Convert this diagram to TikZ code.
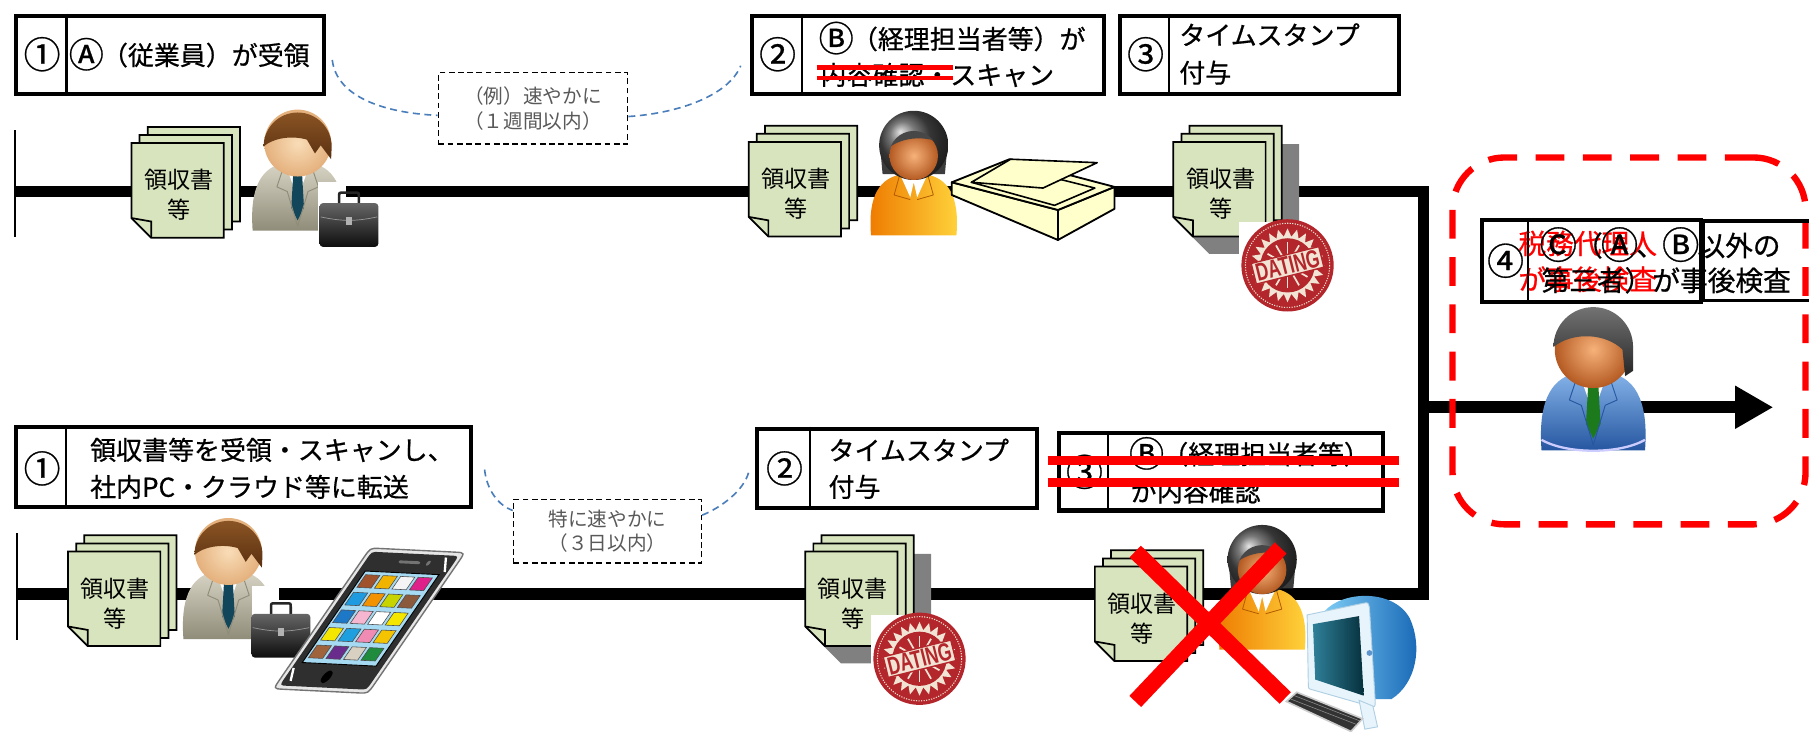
\documentclass[tikz,border=0pt]{standalone}
\usepackage{fontspec}
\usepackage{graphicx}
\newfontfamily\jpfont{Noto Sans CJK JP}
\newfontfamily\jpheavy{Noto Sans CJK JP}[FakeBold=0.7]
\newfontfamily\stampfont{Liberation Sans}
\usetikzlibrary{arrows.meta,calc}

\definecolor{docgreen}{HTML}{D7E4BD}
\definecolor{docshadow}{HTML}{808080}
\definecolor{linkblue}{HTML}{4A7EBB}
\definecolor{notegray}{HTML}{595959}
\definecolor{stampred}{HTML}{B3262B}
\definecolor{stampcream}{HTML}{F2E4D4}
\definecolor{scanyellow}{HTML}{FFFFCC}
\definecolor{skinlight}{HTML}{F9DDB8}
\definecolor{skindark}{HTML}{E4B07C}
\definecolor{hairlight}{HTML}{8A5424}
\definecolor{hairbrown}{HTML}{5A3010}
\definecolor{suitgray}{HTML}{D8D5C6}
\definecolor{suitgraydark}{HTML}{8F8C79}
\definecolor{tieteal}{HTML}{12465A}
\definecolor{suitblue}{HTML}{86B4EA}
\definecolor{suitbluedark}{HTML}{2656A0}
\definecolor{tiegreen}{HTML}{1C7A1C}
\definecolor{facelight}{HTML}{F6B27A}
\definecolor{facedark}{HTML}{B45A22}
\definecolor{hairdark}{HTML}{3C3C3C}
\definecolor{blouseorange}{HTML}{EE7A00}
\definecolor{blouseyellow}{HTML}{FFD43C}
\definecolor{screenblue}{HTML}{A6DAF2}
\definecolor{phonebody}{HTML}{2F2F2F}
\definecolor{phonesilver}{HTML}{E6E6E6}
\definecolor{macbluelight}{HTML}{7CCBF4}
\definecolor{macbluedark}{HTML}{1464B4}
\definecolor{bezel}{HTML}{E8F4FB}
\definecolor{bezelline}{HTML}{AFCFE3}
\definecolor{screenlight}{HTML}{2F8099}
\definecolor{screendark}{HTML}{06303D}

% enlarged enclosed letters (the font draws them small)
\newcommand{\enc}[1]{\kern-0.07em\raisebox{-0.1em}{\scalebox{1.35}{#1}}\kern-0.07em}

% suit body shared by the two male figures
\newcommand{\suitbody}[3]{%
  \shade[top color=#1, bottom color=#2] (-39,76) .. controls (-42,36) and (-30,20) .. (-10,17)
     -- (10,17) .. controls (30,20) and (42,36) .. (39,76) -- cycle;
  \fill[white] (-11,17) -- (0,48) -- (11,17) -- cycle;
  \fill[#3] (-3.5,21) -- (3.5,21) -- (5.5,56) -- (0,67) -- (-5.5,56) -- cycle;
  \draw[#2, line width=0.8pt, line join=round] (-11,17) -- (-18,38) -- (-9,42) -- (0,72) -- (9,42) -- (18,38) -- (11,17);
}

\tikzset{
  stepbox/.style={draw, line width=3.5pt, inner sep=0pt},
  boxline/.style={line width=2pt},
  numlabel/.style={font=\jpheavy\fontsize{32}{34}\selectfont, inner sep=0pt},
  boxtext/.style={font=\jpheavy\fontsize{22.5}{26}\selectfont, inner sep=0pt, anchor=west},
  bigtext/.style={font=\jpheavy\fontsize{24}{27}\selectfont, inner sep=0pt, anchor=west},
  notebox/.style={draw, line width=1.3pt, dash pattern=on 5pt off 3pt, inner sep=0pt,
     font=\jpfont\fontsize{17}{21}\selectfont, text=notegray, align=center},
  rail/.style={line width=10pt, line join=miter},
  linkcurve/.style={linkblue, line width=1.4pt, dash pattern=on 6pt off 4pt},
  doclabel/.style={font=\jpfont\fontsize{20}{22}\selectfont, inner sep=0pt},
  strikeout/.style={red, line width=#1},
  pics/docstack/.style={code={
    \foreach \off in {14,7,0}{
      \filldraw[fill=docgreen, draw=black, line width=1.5pt, line join=miter]
        (\off,-\off) -- ++(80,0) -- ++(0,82) -- ++(-63,0) -- ++(-17,-17) -- cycle;
    }
    \draw[line width=1.5pt] (0,65) -- (17,68) -- (17,82);
    \node[doclabel] (-l1) at (41,32) {領収書};
    \node[doclabel] (-l2) at (41,58) {等};
  }},
  pics/docshadow/.style={code={
    \fill[docshadow] (14,2) -- (109,2) -- (109,97) -- (31,97) -- (14,80) -- cycle;
  }},
  pics/clerk/.style={code={
    \suitbody{suitgray}{suitgraydark}{tieteal}
    \shade[inner color=skinlight, outer color=skindark] (0,0) circle (29);
    \shade[top color=hairlight, bottom color=hairbrown]
      (-29.5,3) arc[start angle=180, end angle=360, radius=29.5] -- (29,14) -- (20,2) -- (15,9) -- (8,-3)
      .. controls (-6,-7) and (-22,-4) .. cycle;
  }},
  pics/auditor/.style={code={
    \suitbody{suitblue}{suitbluedark}{tiegreen}
    \draw[white!80!blue, line width=2pt] (-39,68) .. controls (-20,79) and (20,79) .. (39,68);
    \shade[inner color=facelight, outer color=facedark] (0,0) circle (29);
    \shade[top color=black!55, bottom color=black!85]
      (-30,-2) arc[start angle=180, end angle=360, radius=30] -- (30,16) -- (24,20) -- (22,0)
      .. controls (10,-12) and (-15,-14) .. cycle;
  }},
  pics/woman/.style={code={
    \shade[left color=blouseorange, right color=blouseyellow]
      (-37,77) .. controls (-40,42) and (-29,27) .. (-10,24) -- (10,24) .. controls (29,27) and (40,42) .. (37,77) -- cycle;
    \fill[white] (-12,24) -- (-3,44) -- (0,31) -- (3,44) -- (12,24) -- cycle;
    \draw[blouseorange!75!black, line width=0.7pt, line join=round]
      (-12,24) -- (-17,42) -- (-3,46) (12,24) -- (17,42) -- (3,46);
    \fill[hairdark] (-29,2) -- (-27,24) -- (27,24) -- (29,2) -- cycle;
    \shade[ball color=black!70] (0,-1) circle (30);
    \shade[inner color=facelight, outer color=facedark] (0,8) circle (21);
    \begin{scope}
      \clip (0,8) circle (21.5);
      \fill[black!72] (-24,3) .. controls (-12,-8) and (8,-10) .. (24,-3) -- (24,-20) -- (-24,-20) -- cycle;
    \end{scope}
  }},
  pics/briefcase/.style={code={
    \draw[line width=2.2pt, black!85] (17,11) -- (17,4) .. controls (17,1) .. (20,1) -- (31,1)
      .. controls (34,1) .. (34,4) -- (34,11);
    \shade[top color=black!60, bottom color=black!95, rounded corners=3pt] (0,10) rectangle (51,48);
    \draw[black!40, line width=0.6pt] (1,22) .. controls (20,26) and (31,26) .. (50,22);
    \fill[black!30] (23,22) rectangle (28,29);
  }},
  pics/stamp/.style={code={
    \fill[white] (-42,-38) rectangle (42,38);
    \fill[stampred] (0,0) circle (40);
    \draw[stampcream, line width=0.9pt, dash pattern=on 1pt off 1.2pt] (0,0) circle (36.5);
    \fill[stampcream] (0:32) \foreach \a in {0,15,...,345}{ -- (\a:32) -- ({\a+7.5}:25)} -- cycle;
    \fill[stampred] (0,0) circle (23.5);
    \foreach \a in {0,30,...,330}{\draw[stampcream, line width=1.5pt] (\a:9) -- (\a:20);}
    \node[rotate=14, fill=stampcream, draw=stampred, line width=1.2pt, inner xsep=2pt, inner ysep=1.5pt,
      text=stampred, font=\stampfont\bfseries\fontsize{15}{15}\selectfont] (-txt) {\scalebox{1.0}[1.45]{DATING}};
  }},
}

\begin{document}
\begin{tikzpicture}[x=1pt,y=-1pt]
\useasboundingbox (0,0) rectangle (1568,634);
\clip (0,0) rectangle (1568,634);
\fill[white] (0,0) rectangle (1568,634);

% ---- process rails ----
\coordinate (topStart) at (13,166);
\coordinate (topCorner) at (1234,166);
\coordinate (botCorner) at (1234,515);
\coordinate (botStart) at (15,515);
\coordinate (arrowStart) at (1234,353);
\coordinate (arrowTip) at (1537,353);
\draw[rail] (topStart) -- (topCorner) -- (botCorner) -- (botStart);
\draw[rail, -{Triangle[length=33pt, width=35pt]}] (arrowStart) -- (arrowTip);
\draw[line width=2pt] (13,113) -- (13,205);
\draw[line width=2pt] (15,462) -- (15,555);

% ---- step boxes, upper flow ----
\node[stepbox, minimum width=267pt, minimum height=68pt] (boxA) at (147,47.5) {};
\draw[boxline] ($(boxA.north west)+(46,0)$) -- ($(boxA.south west)+(46,0)$);
\node[numlabel] (nA) at (36.5,47) {①};
\node[boxtext] (tA) at (61,47) {\enc{Ⓐ}（従業員）が受領};

\node[stepbox, minimum width=305pt, minimum height=68pt] (boxB) at (804,47.5) {};
\draw[boxline] ($(boxB.north west)+(45.5,0)$) -- ($(boxB.south west)+(45.5,0)$);
\node[numlabel] (nB) at (674,47) {②};
\node[boxtext] (tB1) at (711,33) {\enc{Ⓑ}（経理担当者等）が};
\node[boxtext] (tB2) at (711,65) {内容確認・スキャン};
\draw[strikeout=3.5pt] (708,58.5) -- (826,58.5);
\draw[strikeout=3.5pt] (708,68) -- (826,68);

\node[stepbox, minimum width=242pt, minimum height=68pt] (boxC) at (1091.5,47.5) {};
\draw[boxline] ($(boxC.north west)+(44.5,0)$) -- ($(boxC.south west)+(44.5,0)$);
\node[numlabel] (nC) at (993,47) {③};
\node[boxtext] (tC1) at (1022,30) {タイムスタンプ};
\node[boxtext] (tC2) at (1022,63) {付与};

% ---- step boxes, lower flow ----
\node[stepbox, minimum width=395pt, minimum height=69pt] (boxD) at (211,405) {};
\draw[boxline] ($(boxD.north west)+(45.5,0)$) -- ($(boxD.south west)+(45.5,0)$);
\node[numlabel] (nD) at (36.5,406) {①};
\node[boxtext] (tD1) at (78,390) {領収書等を受領・スキャンし、};
\node[boxtext] (tD2) at (78,422) {社内PC・クラウド等に転送};

\node[stepbox, minimum width=242pt, minimum height=69pt] (boxE) at (777.5,406) {};
\draw[boxline] ($(boxE.north west)+(47.5,0)$) -- ($(boxE.south west)+(47.5,0)$);
\node[numlabel] (nE) at (680,406) {②};
\node[boxtext] (tE1) at (718,390) {タイムスタンプ};
\node[boxtext] (tE2) at (718,422) {付与};

\node[stepbox, minimum width=281pt, minimum height=67pt] (boxF) at (1058,409) {};
\draw[boxline] ($(boxF.north west)+(44.5,0)$) -- ($(boxF.south west)+(44.5,0)$);
\node[numlabel] (nF) at (940,409) {③};
\node[boxtext] (tF1) at (980,393) {\enc{Ⓑ}（経理担当者等）};
\node[boxtext] (tF2) at (980,426) {が内容確認};
\draw[strikeout=8pt] (908,399) -- (1213,399);
\draw[strikeout=8pt] (908,418) -- (1213,418);

% ---- time-limit notes and their links ----
\node[notebox, minimum width=164pt, minimum height=62pt] (noteA) at (462,94) {（例）速やかに\\（１週間以内）};
\node[notebox, minimum width=163pt, minimum height=55pt] (noteB) at (526.5,460.5) {特に速やかに\\（３日以内）};
\coordinate (linkA1) at (288,52);
\coordinate (linkA2) at (642,57);
\coordinate (linkB1) at (420,407);
\coordinate (linkB2) at (649,409);
\draw[linkcurve] (linkA1) .. controls (292,85) and (335,98) .. ([yshift=-6pt]noteA.west);
\draw[linkcurve] ([yshift=-7pt]noteA.east) .. controls (590,98) and (632,82) .. (linkA2);
\draw[linkcurve] (linkB1) .. controls (422,425) and (432,438) .. ([yshift=18pt]noteB.west);
\draw[linkcurve] ([yshift=14pt]noteB.east) .. controls (625,440) and (645,425) .. (linkB2);

% ---- after-the-fact inspection ----
\node[draw=red, line width=5.5pt, dash pattern=on 25pt off 16pt, rounded corners=45pt,
      minimum width=306pt, minimum height=318pt] (zone) at (1412,295.5) {};
\node[red, bigtext] (tG3) at (1316,211) {税務代理人};
\node[red, bigtext] (tG4) at (1316,242) {が事後検査};
\node[stepbox, minimum width=190pt, minimum height=71pt] (boxG) at (1379.5,226) {};
\node[draw, line width=3pt, minimum width=109pt, minimum height=69pt, inner sep=0pt] (boxH) at (1530.5,226) {};
\draw[boxline] ($(boxG.north west)+(41.5,0)$) -- ($(boxG.south west)+(41.5,0)$);
\node[numlabel] (nG) at (1305,226) {④};
\node[bigtext] (tG1) at (1336,212) {\enc{Ⓒ}（\enc{Ⓐ}、\enc{Ⓑ}以外の};
\node[bigtext] (tG2) at (1336,243) {第三者）が事後検査};
\pic (inspector) at (1381,303) [scale=1.15] {auditor};

% ---- upper flow figures ----
\pic (docA) at (114,124) {docstack};
\pic (clerkA) at (258,124) {clerk};
\fill[white] (276,158) rectangle (300,214);
\pic (bagA) at (277,166) {briefcase};

\pic (docB) at (649,123) {docstack};
\pic (staffA) at (792,127) {woman};
% flatbed scanner
\coordinate (sL) at (825,158);
\coordinate (sT) at (875,138);
\coordinate (sR) at (966,162);
\coordinate (sF) at (917,182);
\coordinate (sLB) at (825,169);
\coordinate (sFB) at (917,208);
\coordinate (sRB) at (966,181);
\filldraw[fill=scanyellow, line width=1.6pt, line join=round] (sL) -- (sF) -- (sFB) -- (sLB) -- cycle;
\filldraw[fill=scanyellow, line width=1.6pt, line join=round] (sF) -- (sR) -- (sRB) -- (sFB) -- cycle;
\filldraw[fill=scanyellow, line width=1.6pt, line join=round] (sL) -- (sT) -- (sR) -- (sF) -- cycle;
\draw[line width=1.4pt, line join=round] (842,158) -- (877,145) -- (949,163) -- (914,178) -- cycle;
\filldraw[fill=scanyellow, line width=1.4pt, line join=round] (842,158) -- (876,138) -- (951,141) -- (904,163) -- cycle;

\pic (shadowC) at (1017,123) {docshadow};
\pic (docC) at (1017,123) {docstack};
\pic (stampC) at (1116,230) {stamp};

% ---- lower flow figures ----
\pic (docD) at (59,478) {docstack};
\pic (clerkB) at (198,478) {clerk};
\fill[white] (218,508) rectangle (242,570);
\pic (bagB) at (218,522) {briefcase};

% smartphone
\begin{scope}[shift={(237,597)}, cm={82,-4,-84,-122,(0,0)}]
  \filldraw[fill=phonesilver, draw=black!55, line width=1.2pt]
    (0.1,0) -- (0.9,0) .. controls (1,0) .. (1,0.07) -- (1,0.93) .. controls (1,1) .. (0.9,1)
    -- (0.1,1) .. controls (0,1) .. (0,0.93) -- (0,0.07) .. controls (0,0) .. (0.1,0) -- cycle;
  \fill[phonebody]
    (0.12,0.025) -- (0.88,0.025) .. controls (0.96,0.025) .. (0.96,0.08) -- (0.96,0.92) .. controls (0.96,0.975) .. (0.88,0.975)
    -- (0.12,0.975) .. controls (0.04,0.975) .. (0.04,0.92) -- (0.04,0.08) .. controls (0.04,0.025) .. (0.12,0.025) -- cycle;
  \filldraw[fill=screenblue, draw=black, line width=0.8pt] (0.11,0.19) -- (0.89,0.19) -- (0.89,0.84) -- (0.11,0.84) -- cycle;
  \foreach \col/\row/\shade in {
      0/0/A0522D, 1/0/F0B400, 2/0/F4F4F4, 3/0/E0208A,
      0/1/1E9BE0, 1/1/F39200, 2/1/C8D400, 3/1/8B5A3C,
      0/2/1E78C8, 1/2/F7B6CF, 2/2/FFFFFF, 3/2/F5E600,
      0/3/F5E600, 1/3/1EA0E0, 2/3/F08CB4, 3/3/F5C400,
      0/4/A0643C, 1/4/6A2C8C, 2/4/D8D0C0, 3/4/1E8C3C}{
    \definecolor{appcolor}{HTML}{\shade}
    \filldraw[fill=appcolor, draw=black!70, line width=0.5pt]
      ({0.14+0.185*\col},{0.815-0.125*\row}) -- ++(0.15,0) -- ++(0,-0.09) -- ++(-0.15,0) -- cycle;
  }
  \fill[black] (0.46,0.1) circle (0.045);
  \draw[black!55, line width=2.5pt, line cap=round] (0.4,0.915) -- (0.6,0.915);
  \fill[black!55] (0.7,0.915) circle (0.018);
  \draw[white, line width=2pt] (0.06,0.15) -- (0.12,0.06);
  \draw[white, line width=2pt] (0.84,0.96) -- (0.93,0.86);
\end{scope}

\pic (docE) at (698,478) {docshadow};
\pic (docE2) at (698,478) {docstack};
\pic (stampE) at (797,571) {stamp};

\pic (docF) at (949,491) {docstack};
\pic (staffB) at (1094,486) {woman};
% desktop computer
\shade[left color=macbluelight, right color=macbluedark]
  (1148,530) .. controls (1163,512) and (1208,510) .. (1222,536) .. controls (1233,560) and (1228,592) .. (1206,606) -- (1165,606) -- cycle;
\filldraw[fill=bezel, draw=bezelline, line width=0.8pt]
  (1133,533) -- (1181,523) .. controls (1186,522) .. (1187,527) -- (1192,608) .. controls (1192,613) .. (1187,612)
  -- (1138,598) .. controls (1134,597) .. (1134,593) -- cycle;
\shade[left color=screenlight, right color=screendark] (1138,541) -- (1178,534) -- (1182,603) -- (1140,589) -- cycle;
\fill[macbluedark!70] (1187,566) circle (2.5);
\filldraw[fill=bezel, draw=bezelline, line width=0.8pt] (1178,607) -- (1190,612) -- (1194,630) -- (1183,632) -- cycle;
\filldraw[fill=black!80, draw=black!20, line width=1.4pt] (1115,608) -- (1124,600) -- (1181,623) -- (1171,634) -- cycle;
\draw[black!45, line width=0.5pt] (1119,606) -- (1176,628) (1122,603) -- (1179,625);

% crossed-out step
\draw[strikeout=14pt] (984,478) -- (1114,605);
\draw[strikeout=14pt] (1110,475) -- (984,608);
\end{tikzpicture}
\end{document}
